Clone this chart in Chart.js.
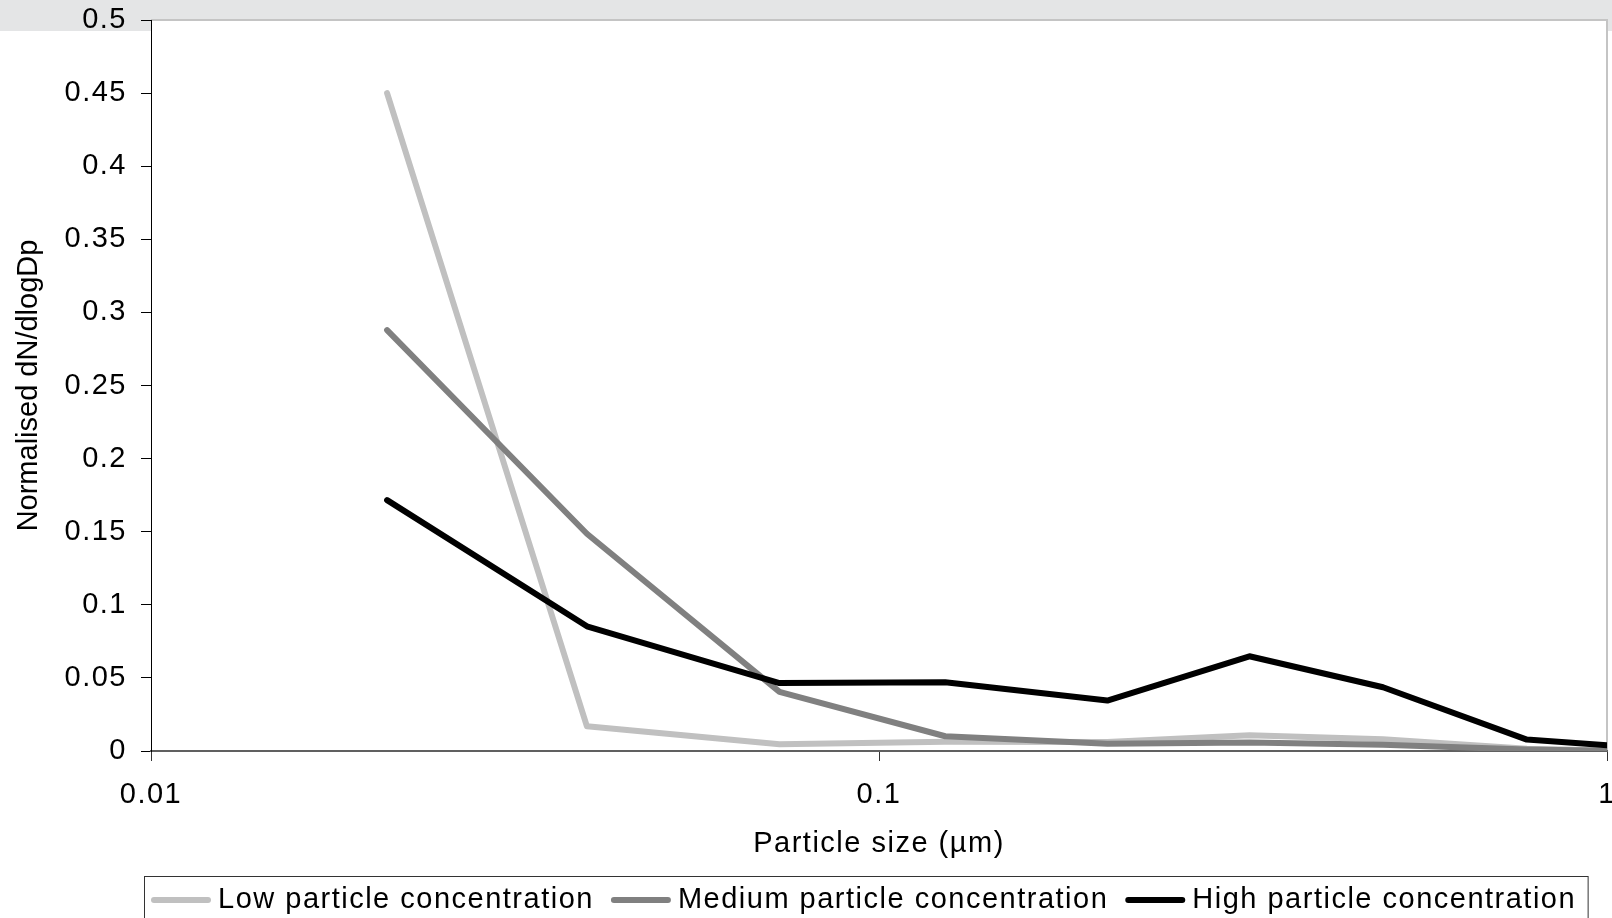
<!DOCTYPE html>
<html>
<head>
<meta charset="utf-8">
<script src="https://cdn.jsdelivr.net/npm/chart.js@4.4.1/dist/chart.umd.min.js"></script>
<style>
  html, body { margin: 0; padding: 0; overflow: hidden; background: #fff; }
  #wrap { width: 1630px; height: 918px; }
</style>
</head>
<body>
<div id="wrap"><canvas id="myChart" width="1630" height="918"></canvas></div>
<script>
// particle size bins (µm) and normalised dN/dlogDp for each concentration class
const particleSizes = [0.0211, 0.0397, 0.073, 0.1233, 0.2059, 0.3227, 0.4924, 0.776, 1.0];
const lowConc = [0.450, 0.0169, 0.0046, 0.0064, 0.0062, 0.0107, 0.008, 0.0015, 0.0004];
const mediumConc = [0.2879, 0.1486, 0.0404, 0.0101, 0.0049, 0.0058, 0.0042, 0.001, 0.0002];
const highConc = [0.1716, 0.0853, 0.0465, 0.047, 0.0345, 0.0648, 0.0436, 0.0078, 0.0039];
const seriesNames = ['Low particle concentration', 'Medium particle concentration', 'High particle concentration'];
const seriesColors = ['#c0c0c0', '#808080', '#000000'];
const xTicks = [0.01, 0.1, 1];
const yTitle = 'Normalised dN/dlogDp';

const FONT = "'Liberation Sans', Arial, sans-serif";
const SIZE = 29;
const SPACING = '1.5px';

Chart.defaults.color = '#000';
Chart.defaults.font.family = FONT;
Chart.defaults.font.size = SIZE;

const toPoints = arr => arr.map((v, i) => ({ x: particleSizes[i], y: v }));

const decor = {
    id: 'decor',
    beforeLayout(chart) {
        chart.ctx.letterSpacing = SPACING;
    },
    beforeDraw(chart) {
        const { ctx, chartArea: a } = chart;
        ctx.letterSpacing = SPACING;
        ctx.save();
        ctx.fillStyle = '#e4e5e6';
        ctx.fillRect(0, 0, chart.width, 31);
        ctx.fillStyle = '#fff';
        ctx.fillRect(a.left, a.top, a.right - a.left, a.bottom - a.top);
        ctx.strokeStyle = '#c4c4c4';
        ctx.lineWidth = 2;
        ctx.beginPath();
        ctx.moveTo(a.left, a.top);
        ctx.lineTo(a.right, a.top);
        ctx.lineTo(a.right, a.bottom);
        ctx.stroke();
        ctx.restore();
    },
    afterDraw(chart) {
        const { ctx, chartArea: a } = chart;
        ctx.save();
        ctx.font = SIZE + 'px ' + FONT;
        ctx.fillStyle = '#000';

        // y axis title, not spaced out (runs vertically)
        ctx.save();
        ctx.letterSpacing = '0px';
        ctx.translate(29, (a.top + a.bottom) / 2);
        ctx.rotate(-Math.PI / 2);
        ctx.textAlign = 'center';
        ctx.textBaseline = 'middle';
        ctx.fillText(yTitle, 0, 0);
        ctx.restore();

        // legend in a box under the axis title
        ctx.textBaseline = 'middle';
        ctx.textAlign = 'left';
        const y = 900;
        let x = 151;
        chart.data.datasets.forEach(ds => {
            ctx.strokeStyle = ds.borderColor;
            ctx.lineWidth = 6;
            ctx.lineCap = 'round';
            ctx.beginPath();
            ctx.moveTo(x + 3, y);
            ctx.lineTo(x + 57, y);
            ctx.stroke();
            x += 67;
            ctx.fillStyle = '#000';
            ctx.fillText(ds.label, x, y);
            x += ctx.measureText(ds.label).width + 17;
        });
        ctx.strokeStyle = '#333';
        ctx.lineWidth = 1;
        ctx.strokeRect(144.5, 876.5, (x - 17 + 12) - 144.5, 80);
        ctx.restore();
    }
};

const datasets = [lowConc, mediumConc, highConc].map((arr, i) => ({
    label: seriesNames[i],
    data: toPoints(arr),
    borderColor: seriesColors[i],
    backgroundColor: seriesColors[i],
    borderWidth: 6,
    borderCapStyle: 'round',
    borderJoinStyle: 'round',
    pointRadius: 0,
    tension: 0,
    fill: false,
    order: 2 - i
}));

new Chart(document.getElementById('myChart').getContext('2d'), {
    type: 'line',
    data: { datasets },
    options: {
        responsive: false,
        animation: false,
        devicePixelRatio: 1,
        layout: { padding: { left: 0, top: 20, right: 23, bottom: 57 } },
        plugins: { legend: { display: false }, tooltip: { enabled: false } },
        scales: {
            x: {
                type: 'logarithmic',
                min: 0.01,
                max: 1,
                afterBuildTicks: scale => { scale.ticks = xTicks.map(v => ({ value: v })); },
                afterFit: scale => {
                    scale.height = 110;
                    scale.paddingLeft = 0;
                    scale.paddingRight = 0;
                },
                ticks: { padding: 17, maxRotation: 0, autoSkip: false, callback: v => String(v) },
                grid: { drawOnChartArea: false, drawTicks: true, tickLength: 10, tickColor: '#333', tickWidth: 1 },
                border: { color: '#606060', width: 2 },
                title: { display: true, text: 'Particle size (µm)', padding: { top: 0, bottom: 0 } }
            },
            y: {
                min: 0,
                max: 0.5,
                afterFit: scale => {
                    scale.width = 151;
                    scale.paddingTop = 0;
                    scale.paddingBottom = 0;
                },
                ticks: { stepSize: 0.05, padding: 14, callback: v => String(Math.round(v * 100) / 100) },
                grid: { drawOnChartArea: false, drawTicks: true, tickLength: 10, tickColor: '#000', tickWidth: 1 },
                border: { color: '#000', width: 1 },
                title: { display: false }
            }
        }
    },
    plugins: [decor]
});
</script>
</body>
</html>
